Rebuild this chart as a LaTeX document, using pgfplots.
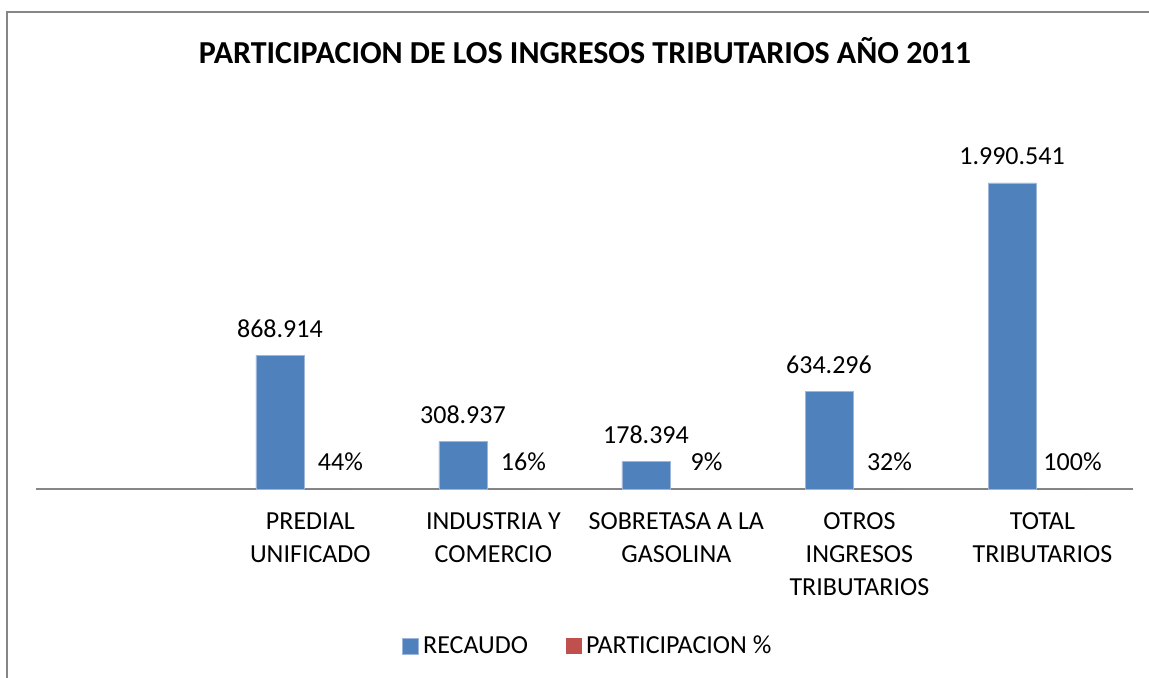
\documentclass[border=0pt]{standalone}
\usepackage{pgfplots}
\pgfplotsset{compat=1.18}
\usepackage{fontspec}
\setmainfont{Carlito}
\definecolor{xlblue}{HTML}{4F81BD}
\definecolor{xlblueedge}{HTML}{9DB6DA}
\definecolor{xlred}{HTML}{C0504D}
\definecolor{xlgray}{HTML}{868686}

\begin{document}
\begin{tikzpicture}
\path[use as bounding box] (0,0) rectangle (574.5pt,-339pt);
\draw[xlgray, line width=1pt] (3.25pt,-345pt) -- (3.25pt,-6pt) -- (580pt,-6pt);
\node[font=\fontsize{16}{19}\selectfont\bfseries] at (292.5pt,-25.5pt)
  {PARTICIPACION DE LOS INGRESOS TRIBUTARIOS AÑO 2011};
\begin{axis}[
  at={(18pt,-244.5pt)}, anchor=south west,
  scale only axis, width=548.5pt, height=153.75pt,
  xmin=-1.464, xmax=4.53, ymin=0, ymax=2000000,
  axis x line*=bottom, axis y line=none,
  axis line style={xlgray, line width=1pt},
  ybar=0pt, bar width=24pt,
  xtick={0.035,1.035,2.035,3.035,4.035},
  major tick length=0pt,
  xticklabels={PREDIAL\\UNIFICADO, INDUSTRIA Y\\COMERCIO, SOBRETASA A LA\\GASOLINA,
    OTROS\\INGRESOS\\TRIBUTARIOS, TOTAL\\TRIBUTARIOS},
  xticklabel style={align=center, font=\fontsize{13}{16.5}\selectfont,
    anchor=north, yshift=-8.5pt},
  clip=false,
  nodes near coords, point meta=explicit symbolic,
  nodes near coords style={font=\fontsize{13}{16}\selectfont, anchor=center,
    yshift=13.5pt, text=black, inner sep=0pt},
  legend style={at={(0.504,-0.511)}, anchor=center, draw=none,
    legend columns=2, font=\fontsize{13}{16}\selectfont,
    /tikz/every even column/.append style={column sep=17pt}},
  legend image code/.code={\fill[#1] (0pt,-4pt) rectangle (8pt,4pt);},
]
\addplot[fill=xlblue, draw=xlblueedge, line width=0.4pt] coordinates {
  (0,868914) [868.914]
  (1,308937) [308.937]
  (2,178394) [178.394]
  (3,634296) [634.296]
  (4,1990541) [1.990.541]
};
\addplot[fill=xlred, draw=none,
  every node near coord/.append style={xshift=6.25pt}] coordinates {
  (0,0.44) [44\%]
  (1,0.16) [16\%]
  (2,0.09) [9\%]
  (3,0.32) [32\%]
  (4,1.00) [100\%]
};
\legend{RECAUDO, PARTICIPACION \%}
\end{axis}
\end{tikzpicture}
\end{document}
